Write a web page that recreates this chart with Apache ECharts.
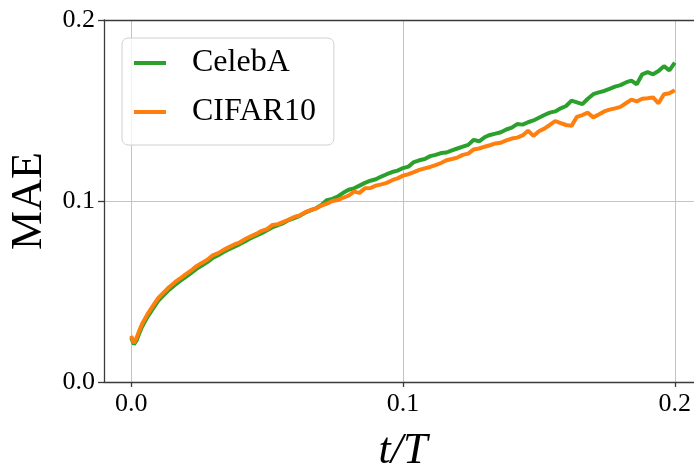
<!DOCTYPE html>
<html>
<head>
<meta charset="utf-8">
<title>MAE vs t/T</title>
<script src="https://cdn.jsdelivr.net/npm/echarts@6/dist/echarts.min.js"></script>
<style>
  html, body { margin: 0; padding: 0; background: #fff; }
  #chart { width: 694px; height: 470px; }
</style>
</head>
<body>
<div id="chart"></div>
<script>
// 数据：横轴 t/T
var tValues = [
  0, 0.001, 0.002, 0.003, 0.004, 0.006, 0.008, 0.010, 0.012, 0.014,
  0.016, 0.018, 0.020, 0.022, 0.024, 0.026, 0.028, 0.030, 0.032, 0.034,
  0.036, 0.038, 0.040, 0.042, 0.044, 0.046, 0.048, 0.050, 0.052, 0.054,
  0.056, 0.058, 0.060, 0.062, 0.064, 0.066, 0.068, 0.070, 0.072, 0.074,
  0.076, 0.078, 0.080, 0.082, 0.084, 0.086, 0.088, 0.090, 0.092, 0.094,
  0.096, 0.098, 0.100, 0.102, 0.104, 0.106, 0.108, 0.110, 0.112, 0.114,
  0.116, 0.118, 0.120, 0.122, 0.124, 0.126, 0.128, 0.130, 0.132, 0.134,
  0.136, 0.138, 0.140, 0.142, 0.144, 0.146, 0.148, 0.150, 0.152, 0.154,
  0.156, 0.158, 0.160, 0.162, 0.164, 0.166, 0.168, 0.170, 0.172, 0.174,
  0.176, 0.178, 0.180, 0.182, 0.184, 0.186, 0.188, 0.190, 0.192, 0.194,
  0.196, 0.198, 0.200
]
// CelebA 的 MAE
var celebaMAE = [
  0.0245, 0.0208, 0.0230, 0.0270, 0.0305, 0.0360, 0.0405, 0.0450, 0.0480, 0.0510,
  0.0535, 0.0558, 0.0580, 0.0602, 0.0625, 0.0643, 0.0662, 0.0685, 0.0700, 0.0718,
  0.0733, 0.0748, 0.0762, 0.0778, 0.0795, 0.0808, 0.0822, 0.0838, 0.0855, 0.0866,
  0.0878, 0.0895, 0.0905, 0.0918, 0.0935, 0.0948, 0.0960, 0.0978, 0.1005, 0.1012,
  0.1025, 0.1045, 0.1062, 0.1070, 0.1085, 0.1100, 0.1112, 0.1120, 0.1135, 0.1148,
  0.1160, 0.1168, 0.1182, 0.1190, 0.1215, 0.1225, 0.1232, 0.1248, 0.1255, 0.1265,
  0.1268, 0.1280, 0.1290, 0.1300, 0.1310, 0.1338, 0.1330, 0.1352, 0.1365, 0.1372,
  0.1380, 0.1395, 0.1405, 0.1425, 0.1422, 0.1435, 0.1445, 0.1460, 0.1475, 0.1488,
  0.1495, 0.1512, 0.1525, 0.1555, 0.1545, 0.1535, 0.1565, 0.1590, 0.1600, 0.1608,
  0.1620, 0.1632, 0.1640, 0.1655, 0.1665, 0.1645, 0.1700, 0.1712, 0.1700, 0.1718,
  0.1745, 0.1722, 0.1765
]
// CIFAR10 的 MAE
var cifarMAE = [
  0.0255, 0.0215, 0.0245, 0.0285, 0.0320, 0.0375, 0.0420, 0.0465, 0.0495, 0.0525,
  0.0550, 0.0572, 0.0595, 0.0615, 0.0640, 0.0658, 0.0675, 0.0700, 0.0712, 0.0730,
  0.0745, 0.0760, 0.0772, 0.0790, 0.0805, 0.0818, 0.0835, 0.0845, 0.0868, 0.0872,
  0.0885, 0.0897, 0.0912, 0.0920, 0.0938, 0.0950, 0.0958, 0.0975, 0.0985, 0.1000,
  0.1005, 0.1018, 0.1030, 0.1052, 0.1045, 0.1070, 0.1072, 0.1085, 0.1092, 0.1100,
  0.1115, 0.1125, 0.1140, 0.1148, 0.1160, 0.1172, 0.1180, 0.1188, 0.1198, 0.1210,
  0.1225, 0.1232, 0.1240, 0.1255, 0.1262, 0.1285, 0.1290, 0.1300, 0.1308, 0.1318,
  0.1322, 0.1335, 0.1345, 0.1350, 0.1362, 0.1388, 0.1360, 0.1385, 0.1400, 0.1420,
  0.1442, 0.1430, 0.1420, 0.1415, 0.1465, 0.1475, 0.1488, 0.1462, 0.1478, 0.1495,
  0.1505, 0.1512, 0.1520, 0.1540, 0.1560, 0.1550, 0.1565, 0.1568, 0.1572, 0.1540,
  0.1590, 0.1595, 0.1612
]
// 刻度
var xTicks = [0, 0.1, 0.2]

function pairs(xs, ys) {
  return xs.map(function (x, i) { return [x, ys[i]] })
}

var serif = "'Liberation Serif', 'DejaVu Serif', serif"
var spine = '#3a3a3a'
var gridColor = '#c4c4c4'

var myChart = echarts.init(document.getElementById('chart'))
var option = {
  animation: false,
  color: ['#2ca02c', '#ff7f0e'],
  // 右侧超出画布，和原图一样被裁掉
  grid: {
    left: 104,
    top: 20,
    width: 598,
    height: 362,
    outerBoundsMode: 'none'
  },
  legend: {
    left: 122,
    top: 38,
    orient: 'vertical',
    icon: 'rect',
    itemWidth: 32,
    itemHeight: 4,
    itemGap: 13,
    padding: [7, 18, 15, 12],
    backgroundColor: 'rgba(255,255,255,0.8)',
    borderColor: '#d0d0d0',
    borderWidth: 1,
    borderRadius: 6,
    textStyle: {
      fontFamily: serif,
      fontSize: 32,
      lineHeight: 36,
      color: '#000',
      padding: [0, 0, 0, 21]
    },
    data: ['CelebA', 'CIFAR10']
  },
  xAxis: [
    {
      type: 'value',
      min: -0.01,
      max: 0.21,
      name: 't/T',
      nameLocation: 'middle',
      nameGap: 47,
      nameTextStyle: {
        fontFamily: serif,
        fontStyle: 'italic',
        fontSize: 44,
        color: '#000'
      },
      axisLine: { show: true, onZero: false, lineStyle: { color: spine, width: 1.3 } },
      axisTick: { show: true, length: 5, customValues: xTicks, lineStyle: { color: spine, width: 1.3 } },
      axisLabel: {
        customValues: xTicks,
        margin: 9,
        fontFamily: serif,
        fontSize: 26,
        color: '#000',
        formatter: function (v) { return v.toFixed(1) }
      },
      splitLine: { show: true, lineStyle: { color: gridColor, width: 1 } }
    },
    {
      // 顶部边框
      type: 'value',
      position: 'top',
      min: -0.01,
      max: 0.21,
      axisLine: { show: true, onZero: false, lineStyle: { color: spine, width: 1.3 } },
      axisTick: { show: false },
      axisLabel: { show: false },
      splitLine: { show: false }
    }
  ],
  yAxis: {
    type: 'value',
    min: 0,
    max: 0.2,
    interval: 0.1,
    name: 'MAE',
    nameLocation: 'middle',
    nameGap: 50,
    nameTextStyle: {
      fontFamily: serif,
      fontSize: 44,
      color: '#000'
    },
    axisLine: { show: true, onZero: false, lineStyle: { color: spine, width: 1.3 } },
    axisTick: { show: true, length: 6, lineStyle: { color: spine, width: 1.3 } },
    axisLabel: {
      margin: 9,
      fontFamily: serif,
      fontSize: 26,
      color: '#000',
      formatter: function (v) { return v.toFixed(1) }
    },
    splitLine: { show: true, lineStyle: { color: gridColor, width: 1 } }
  },
  series: [
    {
      name: 'CelebA',
      type: 'line',
      showSymbol: false,
      lineStyle: { width: 4 },
      data: pairs(tValues, celebaMAE)
    },
    {
      name: 'CIFAR10',
      type: 'line',
      showSymbol: false,
      lineStyle: { width: 4 },
      data: pairs(tValues, cifarMAE)
    }
  ]
}
myChart.setOption(option)
</script>
</body>
</html>
